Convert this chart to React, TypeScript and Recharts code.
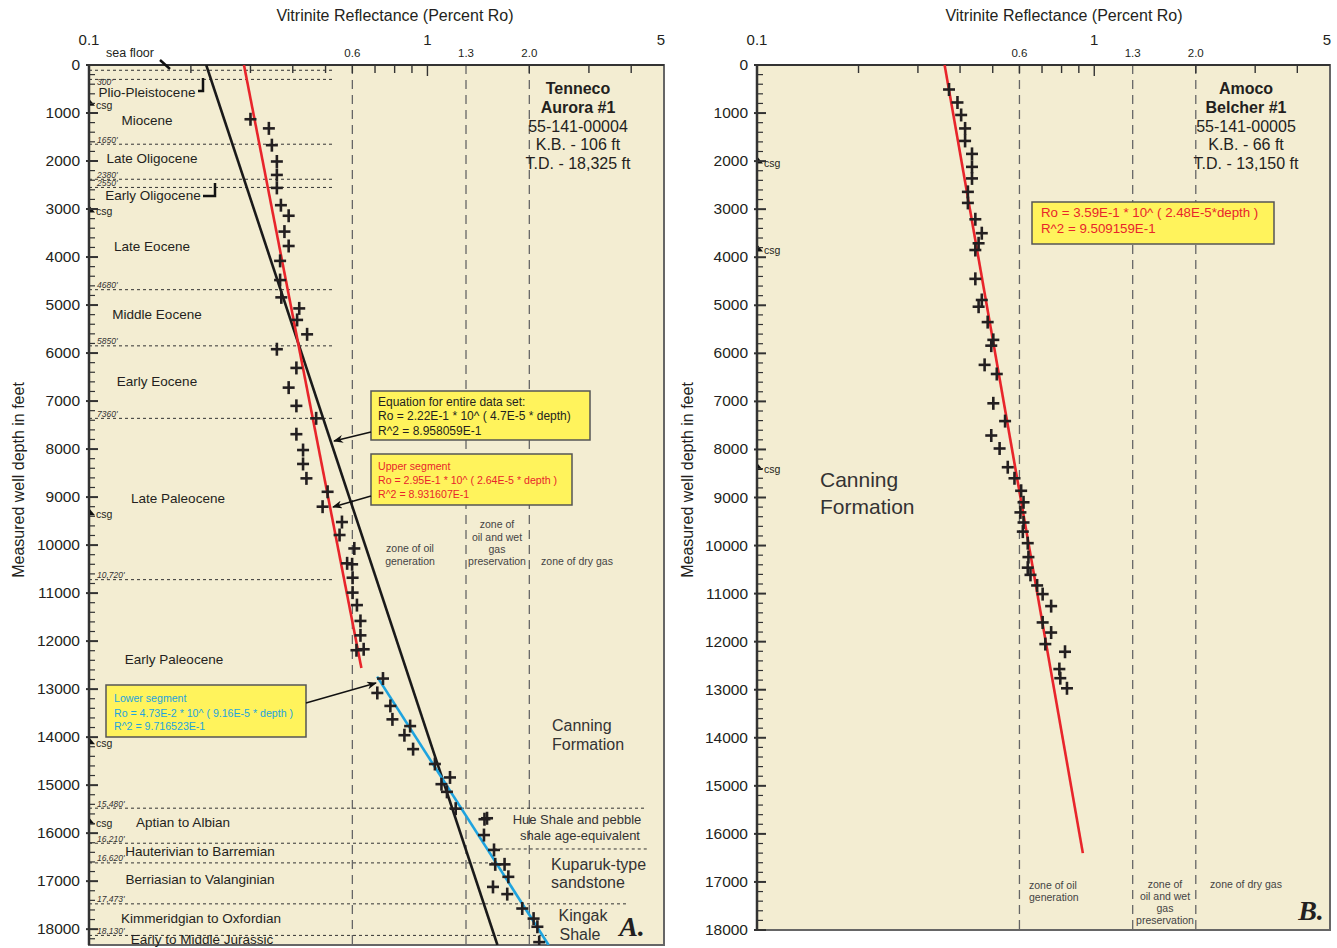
import React from 'react';
import {
  ScatterChart,
  Scatter,
  XAxis,
  YAxis,
  CartesianGrid,
  ReferenceLine,
  ReferenceArea,
} from 'recharts';

const SANS = '"Liberation Sans", Arial, Helvetica, sans-serif';
const INK = '#231f20';
const BEIGE = '#f3edd2';
const RED = '#e8252b';
const BLUE = '#1ea3df';

// Tenneco Aurora #1 samples, [Ro %, depth ft]
const auroraUpper: [number, number][] = [
  [0.3, 1130], [0.34, 1320], [0.347, 1670], [0.359, 2010], [0.359, 2290], [0.359, 2560],
  [0.369, 2920], [0.389, 3140], [0.378, 3470], [0.389, 3770], [0.367, 4080], [0.367, 4480],
  [0.37, 4840], [0.418, 5070], [0.412, 5310], [0.441, 5610], [0.359, 5920], [0.41, 6310],
  [0.389, 6720], [0.41, 7100], [0.469, 7360], [0.41, 7690], [0.429, 8020], [0.429, 8310],
  [0.439, 8610], [0.507, 8890], [0.49, 9200], [0.559, 9520], [0.55, 9790], [0.608, 10070],
  [0.579, 10380], [0.599, 10400], [0.601, 10680], [0.601, 10990], [0.619, 11250],
  [0.634, 11580], [0.634, 11880], [0.617, 12190], [0.648, 12170],
];
const auroraLower: [number, number][] = [
  [0.739, 12780], [0.711, 13080], [0.777, 13350], [0.788, 13630], [0.889, 13770],
  [0.855, 13960], [0.907, 14250], [1.052, 14560], [1.166, 14840], [1.1, 14980],
  [1.142, 15140], [1.212, 15490], [1.474, 15710], [1.5, 15690], [1.469, 16040],
  [1.573, 16350], [1.586, 16650], [1.69, 16650], [1.734, 16910], [1.562, 17120],
  [1.721, 17270], [1.906, 17570], [2.059, 17780], [2.113, 17950], [2.139, 18270],
];

// Amoco Belcher #1 samples
const belcherSamples: [number, number][] = [
  [0.371, 510], [0.393, 780], [0.403, 1040], [0.414, 1320], [0.414, 1580], [0.434, 1850],
  [0.434, 2120], [0.434, 2360], [0.422, 2640], [0.422, 2870], [0.444, 3210], [0.464, 3500],
  [0.454, 3710], [0.444, 3850], [0.444, 4450], [0.464, 4890], [0.454, 5030], [0.483, 5350],
  [0.502, 5720], [0.495, 5840], [0.473, 6240], [0.514, 6430], [0.502, 7040], [0.544, 7410],
  [0.495, 7710], [0.524, 7980], [0.554, 8370], [0.58, 8600], [0.607, 8860], [0.617, 9100],
  [0.604, 9310], [0.617, 9520], [0.614, 9710], [0.635, 9950], [0.638, 10240], [0.635, 10460],
  [0.647, 10610], [0.677, 10830], [0.703, 11010], [0.745, 11260], [0.703, 11600],
  [0.745, 11810], [0.716, 12050], [0.819, 12210], [0.788, 12570], [0.793, 12760], [0.83, 12970],
];

// regression lines, end points
const auroraAllFit: [number, number][] = [[0.222, 0], [1.61, 18330]];
const auroraUpperFit: [number, number][] = [[0.287, 0], [0.638, 12560]];
const auroraLowerFit: [number, number][] = [[0.71, 12740], [2.28, 18330]];
const belcherFit: [number, number][] = [[0.36, 0], [0.925, 16400]];

// formation tops (Aurora): depth, Ro extent, label
const auroraTops = [
  { depth: 110, from: 0.1, to: 0.527, label: '' },
  { depth: 300, from: 0.1, to: 0.527, label: "300'" },
  { depth: 1650, from: 0.1, to: 0.527, label: "1650'" },
  { depth: 2380, from: 0.1, to: 0.527, label: "2380'" },
  { depth: 2550, from: 0.1, to: 0.527, label: "2550'" },
  { depth: 4680, from: 0.1, to: 0.527, label: "4680'" },
  { depth: 5850, from: 0.1, to: 0.527, label: "5850'" },
  { depth: 7360, from: 0.1, to: 0.527, label: "7360'" },
  { depth: 10720, from: 0.1, to: 0.527, label: "10,720'" },
  { depth: 15480, from: 0.1, to: 4.4, label: "15,480'" },
  { depth: 16210, from: 0.1, to: 1.25, label: "16,210'" },
  { depth: 16330, from: 1.57, to: 4.5, label: '' },
  { depth: 16620, from: 0.1, to: 1.57, label: "16,620'" },
  { depth: 17473, from: 0.1, to: 3.86, label: "17,473'" },
  { depth: 18130, from: 0.1, to: 2.25, label: "18,130'" },
];

const auroraCasing = [850, 3070, 9380, 14150, 15820];
const belcherCasing = [2050, 3880, 8430];

const roTicks = [0.1, 0.2, 0.3, 0.4, 0.5, 0.6, 0.7, 0.8, 0.9, 1, 1.3, 2, 3, 4, 5];
const roMainLabels = [0.1, 1, 5];
const roZoneBounds = [0.6, 1.3, 2];

const AURORA_MAX = 18330;
const BELCHER_MAX = 18000;

const minorDepthTicks = (max: number) => {
  const out: number[] = [];
  for (let d = 0; d <= max; d += 200) out.push(d);
  return out;
};

const toPts = (arr: [number, number][]) => arr.map(([ro, depth]) => ({ ro, depth }));
const toCasing = (arr: number[]) => arr.map((depth) => ({ ro: 0.1, depth }));

const Plus = (p: any) => {
  const { cx, cy } = p;
  if (cx == null || cy == null) return <g />;
  return (
    <g stroke={INK} strokeWidth={2.6}>
      <line x1={cx - 6} y1={cy} x2={cx + 6} y2={cy} />
      <line x1={cx} y1={cy - 6.5} x2={cx} y2={cy + 6.5} />
    </g>
  );
};

const Empty = () => <g />;

const Casing = (p: any) => {
  const { cx, cy } = p;
  if (cx == null || cy == null) return <g />;
  return (
    <g>
      <polygon points={`${cx + 1},${cy - 6} ${cx + 6},${cy} ${cx + 1},${cy}`} fill="#111" />
      <text x={cx + 7} y={cy + 3} fontSize={10.5} fontFamily={SANS} fill={INK}>csg</text>
    </g>
  );
};

const TopTick = (p: any) => {
  const v = p.payload.value;
  const { x, y } = p;
  const hasLine = v !== 0.1 && v !== 1.3 && v !== 5;
  return (
    <g>
      {hasLine && (
        <line x1={x} x2={x} y1={y} y2={y + (v === 1 ? 11 : 8)} stroke="#333" strokeWidth={1.4} />
      )}
      {roMainLabels.includes(v) && (
        <text x={v === 5 ? x - 3 : x} y={y - 20} textAnchor="middle" fontSize={15}
          fontFamily={SANS} fill={INK}>{v}</text>
      )}
      {roZoneBounds.includes(v) && (
        <text x={x} y={y - 8} textAnchor="middle" fontSize={11.5} fontFamily={SANS}
          fill={INK}>{v === 2 ? '2.0' : v}</text>
      )}
    </g>
  );
};

const DepthTick = (p: any) => {
  const v = p.payload.value;
  const { x, y } = p;
  const major = v % 1000 === 0;
  return (
    <g>
      <line x1={major ? x - 3 : x} x2={x + (major ? 9 : 6)} y1={y} y2={y}
        stroke="#333" strokeWidth={major ? 2 : 1.2} />
      {major && (
        <text x={x - 9} y={y + 5} textAnchor="end" fontSize={15.5} fontFamily={SANS}
          fill={INK}>{v}</text>
      )}
    </g>
  );
};

const TopLabel = (p: any) => {
  const vb = p.viewBox || {};
  return (
    <text x={(vb.x || 0) + 8} y={(vb.y || 0) + (p.below ? 6 : -1.5)} fontSize={8.5}
      fontStyle="italic" fontFamily={SANS} fill="#333">{p.text}</text>
  );
};

const T = (props: any) => {
  const { x, y, s = 13.5, a = 'start', w = 'normal', c = INK, it = false, f = SANS, children } = props;
  return (
    <text x={x} y={y} fontSize={s} textAnchor={a} fontWeight={w} fill={c}
      fontStyle={it ? 'italic' : 'normal'} fontFamily={f}>{children}</text>
  );
};

const zoneLine = (v: number) => (
  <ReferenceLine key={'z' + v} x={v} stroke="#666" strokeDasharray="9 6" strokeWidth={1.3} />
);

export default function App() {
  return (
    <div style={{ position: 'absolute', left: 0, top: 0, width: 1337, height: 948, background: '#fff' }}>
      <div style={{ position: 'absolute', left: 0, top: 0 }}>
        <ScatterChart width={668} height={948} margin={{ top: 0, right: 4, bottom: 3, left: 0 }}>
          <CartesianGrid fill={BEIGE} fillOpacity={1} horizontal={false} vertical={false} />
          <XAxis type="number" dataKey="ro" scale="log" domain={[0.1, 5]} allowDataOverflow
            orientation="top" height={65} ticks={roTicks} interval={0} tick={(p: any) => <TopTick {...p} />}
            tickLine={false} tickSize={0} tickMargin={0} axisLine={{ stroke: '#333', strokeWidth: 2 }} />
          <YAxis type="number" dataKey="depth" domain={[0, AURORA_MAX]} reversed allowDataOverflow
            ticks={minorDepthTicks(18200)} interval={0} width={89} tick={(p: any) => <DepthTick {...p} />}
            tickLine={false} tickSize={0} tickMargin={0} axisLine={{ stroke: '#333', strokeWidth: 2.5 }} />
          <ReferenceArea x1={0.1} x2={5} y1={0} y2={AURORA_MAX} fill="none" stroke="#666"
            strokeWidth={2} ifOverflow="visible" />
          {roZoneBounds.map(zoneLine)}
          {auroraTops.map((t) => (
            <ReferenceLine key={'t' + t.depth} segment={[{ x: t.from, y: t.depth }, { x: t.to, y: t.depth }]}
              stroke="#333" strokeDasharray="3 3" strokeWidth={1} ifOverflow="visible"
              label={t.label ? (lp: any) => <TopLabel {...lp} text={t.label} below={t.depth === 300} /> : undefined} />
          ))}
          <Scatter data={toCasing(auroraCasing)} shape={Casing} isAnimationActive={false} />
          <Scatter data={toPts(auroraAllFit)} line={{ stroke: '#1a1a1a', strokeWidth: 2.6 }} shape={Empty} isAnimationActive={false} />
          <Scatter data={toPts(auroraUpperFit)} line={{ stroke: RED, strokeWidth: 2.6 }} shape={Empty} isAnimationActive={false} />
          <Scatter data={toPts(auroraLowerFit)} line={{ stroke: BLUE, strokeWidth: 2.6 }} shape={Empty} isAnimationActive={false} />
          <Scatter data={toPts(auroraUpper)} shape={Plus} isAnimationActive={false} />
          <Scatter data={toPts(auroraLower)} shape={Plus} isAnimationActive={false} />
        </ScatterChart>
      </div>

      <div style={{ position: 'absolute', left: 668, top: 0 }}>
        <ScatterChart width={669} height={948} margin={{ top: 0, right: 7, bottom: 18, left: 0 }}>
          <CartesianGrid fill={BEIGE} fillOpacity={1} horizontal={false} vertical={false} />
          <XAxis type="number" dataKey="ro" scale="log" domain={[0.1, 5]} allowDataOverflow
            orientation="top" height={65} ticks={roTicks} interval={0} tick={(p: any) => <TopTick {...p} />}
            tickLine={false} tickSize={0} tickMargin={0} axisLine={{ stroke: '#333', strokeWidth: 2 }} />
          <YAxis type="number" dataKey="depth" domain={[0, BELCHER_MAX]} reversed allowDataOverflow
            ticks={minorDepthTicks(BELCHER_MAX)} interval={0} width={89} tick={(p: any) => <DepthTick {...p} />}
            tickLine={false} tickSize={0} tickMargin={0} axisLine={{ stroke: '#333', strokeWidth: 2.5 }} />
          <ReferenceArea x1={0.1} x2={5} y1={0} y2={BELCHER_MAX} fill="none" stroke="#666"
            strokeWidth={2} ifOverflow="visible" />
          {roZoneBounds.map(zoneLine)}
          <Scatter data={toCasing(belcherCasing)} shape={Casing} isAnimationActive={false} />
          <Scatter data={toPts(belcherFit)} line={{ stroke: RED, strokeWidth: 2.6 }} shape={Empty} isAnimationActive={false} />
          <Scatter data={toPts(belcherSamples)} shape={Plus} isAnimationActive={false} />
        </ScatterChart>
      </div>

      <svg width={1337} height={948} style={{ position: 'absolute', left: 0, top: 0, pointerEvents: 'none' }}>
        <defs>
          <marker id="ah" markerWidth={10} markerHeight={8} refX={9} refY={4} orient="auto" markerUnits="userSpaceOnUse">
            <path d="M0,0 L10,4 L0,8 L3,4 z" fill="#111" />
          </marker>
        </defs>

        {/* panel A */}
        <T x={395} y={21} s={16} a="middle">Vitrinite Reflectance (Percent Ro)</T>
        <text transform="translate(24,480) rotate(-90)" textAnchor="middle" fontSize={16}
          fontFamily={SANS} fill={INK}>Measured well depth in feet</text>
        <T x={130} y={57} s={12.5} a="middle">sea floor</T>
        <line x1={160} y1={60} x2={170} y2={69} stroke="#111" strokeWidth={2.5} />
        <polyline points="198,91 203,91 203,78" fill="none" stroke="#111" strokeWidth={2.5} />
        <polyline points="203,196 215,196 215,183" fill="none" stroke="#111" strokeWidth={2.5} />

        <T x={147} y={97} a="middle">Plio-Pleistocene</T>
        <T x={147} y={125} a="middle">Miocene</T>
        <T x={152} y={163} a="middle">Late Oligocene</T>
        <T x={153} y={200} a="middle">Early Oligocene</T>
        <T x={152} y={251} a="middle">Late Eocene</T>
        <T x={157} y={319} a="middle">Middle Eocene</T>
        <T x={157} y={386} a="middle">Early Eocene</T>
        <T x={178} y={503} a="middle">Late Paleocene</T>
        <T x={174} y={664} a="middle">Early Paleocene</T>
        <T x={183} y={827} a="middle">Aptian to Albian</T>
        <T x={200} y={856} a="middle">Hauterivian to Barremian</T>
        <T x={200} y={884} a="middle">Berriasian to Valanginian</T>
        <T x={201} y={923} a="middle">Kimmeridgian to Oxfordian</T>
        <T x={202} y={944} a="middle">Early to Middle Jurassic</T>

        <T x={578} y={94} s={16} a="middle" w="bold">Tenneco</T>
        <T x={578} y={113} s={16} a="middle" w="bold">Aurora #1</T>
        <T x={578} y={132} s={16} a="middle">55-141-00004</T>
        <T x={578} y={150} s={16} a="middle">K.B. -  106 ft</T>
        <T x={578} y={169} s={16} a="middle">T.D. - 18,325 ft</T>

        <rect x={371} y={391} width={219} height={49} fill="#fff35c" stroke="#555" strokeWidth={1.5} />
        <T x={378} y={406} s={12}>Equation for entire data set:</T>
        <T x={378} y={420} s={12}>Ro = 2.22E-1 * 10^ ( 4.7E-5 * depth)</T>
        <T x={378} y={435} s={12}>R^2 = 8.958059E-1</T>
        <line x1={371} y1={432} x2={334} y2={441} stroke="#111" strokeWidth={1.5} markerEnd="url(#ah)" />

        <rect x={371} y={454} width={201} height={51} fill="#fff35c" stroke="#555" strokeWidth={1.5} />
        <T x={378} y={470} s={10.6} c={RED}>Upper segment</T>
        <T x={378} y={484} s={10.6} c={RED}>Ro = 2.95E-1 * 10^ ( 2.64E-5 * depth )</T>
        <T x={378} y={498} s={10.6} c={RED}>R^2 = 8.931607E-1</T>
        <line x1={371} y1={496} x2={333} y2={507} stroke="#111" strokeWidth={1.5} markerEnd="url(#ah)" />

        <rect x={106} y={685} width={200} height={52} fill="#fff35c" stroke="#555" strokeWidth={1.5} />
        <T x={114} y={702} s={10.6} c={BLUE}>Lower segment</T>
        <T x={114} y={717} s={10.6} c={BLUE}>Ro = 4.73E-2 * 10^ ( 9.16E-5 * depth )</T>
        <T x={114} y={730} s={10.6} c={BLUE}>R^2 = 9.716523E-1</T>
        <line x1={306} y1={703} x2={376} y2={683} stroke="#111" strokeWidth={1.5} markerEnd="url(#ah)" />

        <T x={410} y={552} s={10.5} a="middle" c="#444">zone of oil</T>
        <T x={410} y={565} s={10.5} a="middle" c="#444">generation</T>
        <T x={497} y={528} s={10.5} a="middle" c="#444">zone of</T>
        <T x={497} y={541} s={10.5} a="middle" c="#444">oil and wet</T>
        <T x={497} y={553} s={10.5} a="middle" c="#444">gas</T>
        <T x={497} y={565} s={10.5} a="middle" c="#444">preservation</T>
        <T x={577} y={565} s={10.5} a="middle" c="#444">zone of dry gas</T>

        <T x={552} y={731} s={16} c="#333">Canning</T>
        <T x={552} y={750} s={16} c="#333">Formation</T>
        <T x={577} y={824} s={13} a="middle" c="#333">Hue Shale and pebble</T>
        <T x={580} y={840} s={13} a="middle" c="#333">shale age-equivalent</T>
        <T x={551} y={870} s={16} c="#333">Kuparuk-type</T>
        <T x={551} y={888} s={16} c="#333">sandstone</T>
        <T x={583} y={921} s={16} a="middle" c="#333">Kingak</T>
        <T x={580} y={940} s={16} a="middle" c="#333">Shale</T>
        <T x={632} y={936} s={28} a="middle" w="bold" it f='"Liberation Serif", "Times New Roman", serif'>A.</T>

        {/* panel B */}
        <T x={1064} y={21} s={16} a="middle">Vitrinite Reflectance (Percent Ro)</T>
        <text transform="translate(693,480) rotate(-90)" textAnchor="middle" fontSize={16}
          fontFamily={SANS} fill={INK}>Measured well depth in feet</text>

        <T x={1246} y={94} s={16} a="middle" w="bold">Amoco</T>
        <T x={1246} y={113} s={16} a="middle" w="bold">Belcher #1</T>
        <T x={1246} y={132} s={16} a="middle">55-141-00005</T>
        <T x={1246} y={150} s={16} a="middle">K.B. - 66 ft</T>
        <T x={1246} y={169} s={16} a="middle">T.D. -  13,150 ft</T>

        <rect x={1032} y={202} width={242} height={42} fill="#fff35c" stroke="#555" strokeWidth={1.5} />
        <T x={1041} y={217} s={13.3} c={RED}>Ro = 3.59E-1 * 10^ ( 2.48E-5*depth )</T>
        <T x={1041} y={233} s={13.3} c={RED}>R^2 = 9.509159E-1</T>

        <T x={820} y={487} s={21} c="#333">Canning</T>
        <T x={820} y={514} s={21} c="#333">Formation</T>

        <T x={1029} y={889} s={10.5} c="#444">zone of oil</T>
        <T x={1029} y={901} s={10.5} c="#444">generation</T>
        <T x={1165} y={888} s={10.5} a="middle" c="#444">zone of</T>
        <T x={1165} y={900} s={10.5} a="middle" c="#444">oil and wet</T>
        <T x={1165} y={912} s={10.5} a="middle" c="#444">gas</T>
        <T x={1165} y={924} s={10.5} a="middle" c="#444">preservation</T>
        <T x={1246} y={888} s={10.5} a="middle" c="#444">zone of dry gas</T>
        <T x={1311} y={920} s={28} a="middle" w="bold" it f='"Liberation Serif", "Times New Roman", serif'>B.</T>
      </svg>
    </div>
  );
}
